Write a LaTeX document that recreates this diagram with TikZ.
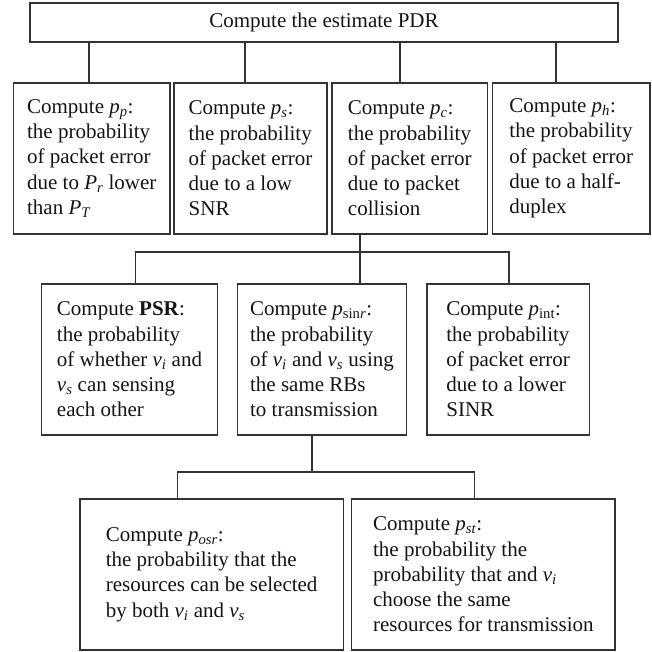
\documentclass[tikz,border=0pt]{standalone}
\usepackage{fontspec}
\setmainfont{Liberation Serif}
\newcommand\sub[2]{\textit{#1}\textsubscript{#2}}
\begin{document}
\begin{tikzpicture}[x=1pt,y=-1pt,
  box/.style={draw=black!80, line width=1.2pt, text=black!92, inner sep=0pt,
    align=left, font=\fontsize{21}{25.3}\selectfont},
  link/.style={draw=black!80, line width=1.2pt}]
\useasboundingbox (0,0) rectangle (651,652);

% root
\node[box, minimum width=588pt, minimum height=39pt] (top) at (324,22.5)
  {Compute the estimate PDR};

% second level
\node[box, minimum width=156.5pt, minimum height=151pt] (b1) at (91.75,158.5)
  {Compute \sub{p}{\textit{p}}:\\the probability\\of packet error\\due to \sub{P}{\textit{r}} lower\\than \sub{P}{\textit{T}}};
\node[box, minimum width=153pt, minimum height=151pt] (b2) at (250.5,158.5)
  {Compute \sub{p}{\textit{s}}:\\the probability\\of packet error\\due to a low\\SNR};
\node[box, minimum width=155.5pt, minimum height=151pt] (b3) at (409.75,158.5)
  {Compute \sub{p}{\textit{c}}:\\the probability\\of packet error\\due to packet\\collision};
\node[box, minimum width=157.5pt, minimum height=151pt] (b4) at (571.25,158.5)
  {Compute \sub{p}{\textit{h}}:\\the probability\\of packet error\\due to a half-\\duplex};

% third level
\node[box, minimum width=176pt, minimum height=151pt] (c1) at (129.5,359.5)
  {Compute \textbf{PSR}:\\the probability\\of whether \sub{v}{\textit{i}} and\\\sub{v}{\textit{s}} can sensing\\each other};
\node[box, minimum width=168.6pt, minimum height=151pt] (c2) at (322,359.5)
  {Compute \sub{p}{sin\textit{r}}:\\the probability\\of \sub{v}{\textit{i}} and \sub{v}{\textit{s}} using\\the same RBs\\to transmission};
\node[box, minimum width=162.3pt, minimum height=151pt] (c3) at (508.15,359.5)
  {Compute \sub{p}{int}:\\the probability\\of packet error\\due to a lower\\SINR};

% fourth level
\node[box, minimum width=263.3pt, minimum height=151pt] (d1) at (211.65,574.5)
  {Compute \sub{p}{\textit{osr}}:\\the probability that the\\resources can be selected\\by both \sub{v}{\textit{i}} and \sub{v}{\textit{s}}};
\node[box, minimum width=263.3pt, minimum height=151pt] (d2) at (483.35,574.5)
  {Compute \sub{p}{\textit{st}}:\\the probability the\\probability that and \sub{v}{\textit{i}}\\choose the same\\resources for transmission};

% junction points of the bus lines
\coordinate (j2) at (360,252);
\coordinate (j3) at (312,472);

% root to second level
\draw[link] ([xshift=-2.75]b1.north) -- ([xshift=-2.75]b1.north |- top.south);
\draw[link] ([xshift=-5.5]b2.north) -- ([xshift=-5.5]b2.north |- top.south);
\draw[link] ([xshift=-9.75]b3.north) -- ([xshift=-9.75]b3.north |- top.south);
\draw[link] ([xshift=-15.25]b4.north) -- ([xshift=-15.25]b4.north |- top.south);

% collision box to third level
\draw[link] ([xshift=-49.75]b3.south) -- ([xshift=38]c2.north);
\draw[link] ([xshift=6.2]c1.north) |- (j2) -| ([xshift=0.85]c3.north);

% sinr box to fourth level
\draw[link] ([xshift=-10]c2.south) -- (j3);
\draw[link] ([xshift=-34]d1.north) |- (j3) -| ([xshift=-8.65]d2.north);
\end{tikzpicture}
\end{document}
